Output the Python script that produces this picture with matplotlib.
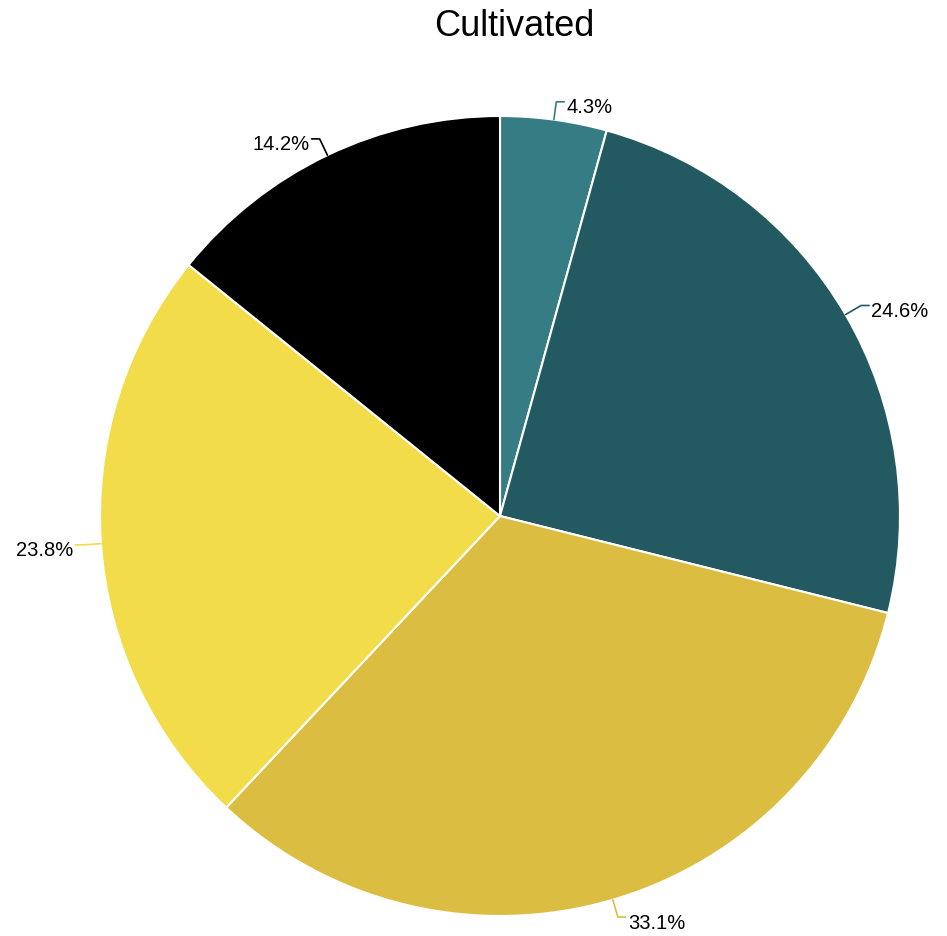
import numpy as np
import matplotlib.pyplot as plt

plt.rcParams["font.family"] = ["Liberation Sans", "DejaVu Sans"]

# slices, clockwise from 12 o'clock
labels = ["4.3%", "24.6%", "33.1%", "23.8%", "14.2%"]
values = [4.3, 24.6, 33.1, 23.8, 14.2]
colors = ["#367c84", "#235a61", "#dbbe41", "#f3dc4a", "#000000"]

W, H = 947, 937
cx, cy, r = 500, H - 517, 400

fig = plt.figure(figsize=(W / 100, H / 100), dpi=100)
ax = fig.add_axes([0, 0, 1, 1])

wedges, _ = ax.pie(
    values, colors=colors, startangle=90, counterclock=False,
    center=(cx, cy), radius=r, frame=True,
    wedgeprops=dict(edgecolor="white", linewidth=1.5),
)
ax.set_xlim(0, W)
ax.set_ylim(0, H)
ax.set_aspect("equal")
ax.axis("off")

for w, lab, col in zip(wedges, labels, colors):
    mid = np.deg2rad((w.theta1 + w.theta2) / 2)
    x0, y0 = cx + r * np.cos(mid), cy + r * np.sin(mid)
    x1, y1 = cx + (r + 18) * np.cos(mid), cy + (r + 18) * np.sin(mid)
    side = 1 if np.cos(mid) >= 0 else -1
    x2 = x1 + side * 8
    ax.plot([x0, x1, x2], [y0, y1, y1], color=col, lw=1.2,
            solid_capstyle="round", clip_on=False)
    ax.text(x2 + side * 2, y1 - 5, lab, fontsize=14.5,
            ha="left" if side > 0 else "right", va="center", color="black")

fig.text(514 / W, 1 - 26 / H, "Cultivated", fontsize=26, ha="center", va="center")

fig.savefig("out.png", dpi=100)
